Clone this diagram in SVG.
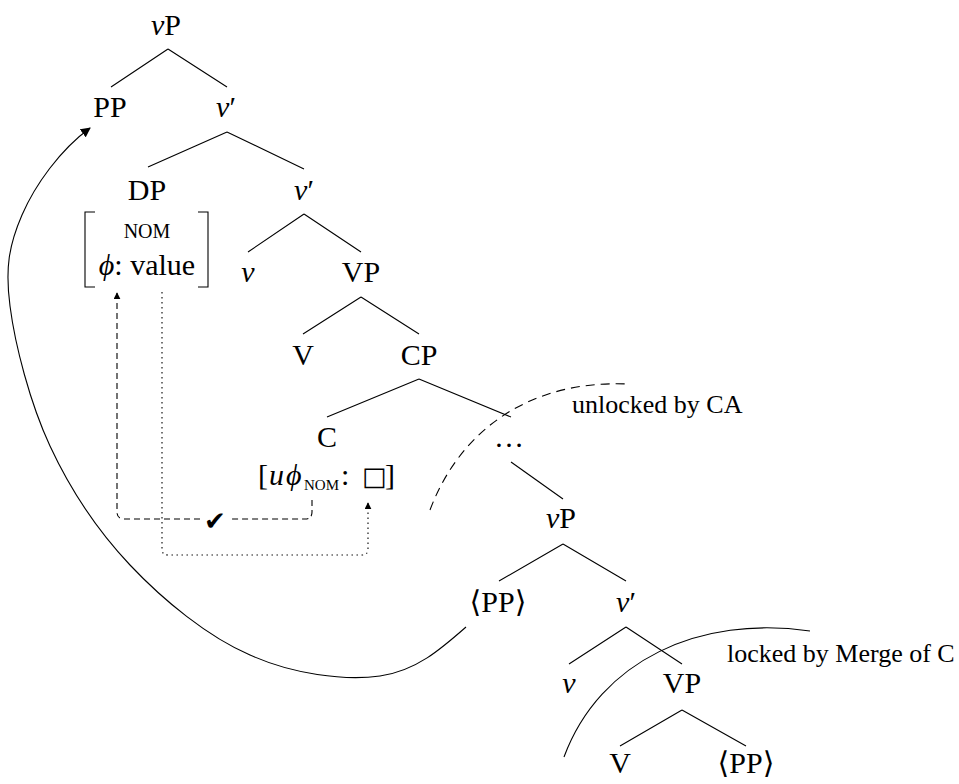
<svg xmlns="http://www.w3.org/2000/svg" width="959" height="784" viewBox="0 0 959 784">
<style>
text{font-family:"Liberation Serif","DejaVu Serif",serif;font-size:30px;fill:#000}
.lab{text-anchor:middle}
.it{font-style:italic}
.note{font-size:26px}
.edge{stroke:#000;stroke-width:1.1;fill:none}
</style>
<defs>
<marker id="ah" viewBox="0 0 10 10" refX="9" refY="5" markerWidth="7" markerHeight="7" markerUnits="userSpaceOnUse" orient="auto">
<path d="M0,0 L10,5 L0,10 z" fill="#000"/>
</marker>
<marker id="ahb" viewBox="0 0 10 10" refX="9" refY="5" markerWidth="10" markerHeight="10" markerUnits="userSpaceOnUse" orient="auto">
<path d="M0,0 L10,5 L0,10 z" fill="#000"/>
</marker>
</defs>
<rect width="959" height="784" fill="#fff"/>

<g id="connectors">
<path class="edge" d="M168,49 L111,87 M168,49 L227,87"/>
<path class="edge" d="M227,132 L148,167 M227,132 L304,169"/>
<path class="edge" d="M304,214 L248,252 M304,214 L361,252"/>
<path class="edge" d="M361,297 L303,334 M361,297 L419,334"/>
<path class="edge" d="M419,379 L327,417 M419,379 L511,417"/>
<path class="edge" d="M511,462 L563,499"/>
<path class="edge" d="M563,544 L499,581 M563,544 L626,581"/>
<path class="edge" d="M626,627 L569,664 M626,627 L682,664"/>
<path class="edge" d="M682,710 L620,746 M682,710 L746,746"/>
<!-- agreement dashed -->
<path class="edge" stroke-dasharray="6 4" d="M312,500 V512 Q312,519 305,519 H230"/>
<path class="edge" stroke-dasharray="6 4" marker-end="url(#ah)" d="M200,519 H124 Q117,519 117,512 V293"/>
<!-- valuation dotted -->
<path class="edge" stroke-dasharray="1.4 3.6" marker-end="url(#ah)" d="M162,292 V549 Q162,555 168,555 H362 Q368,555 368,549 V503"/>
<!-- movement arrow -->
<path class="edge" stroke-width="1.5" marker-end="url(#ahb)" d="M466,627 C441,649 416,671 380,676 C344,681 292,674 250,655 C208,637 163,600 130,565 C97,530 70,489 50,446 C30,403 15,345 10,306 C5,268 9,245 22,215 C35,185 60,150 90,128"/>
<!-- phase arcs -->
<path class="edge" stroke-dasharray="9 6" d="M430,510 C460,430 530,380 627,384"/>
<path class="edge" stroke-width="1.2" d="M564,757 C600,660 700,615 810,631"/>
</g>

<g id="n-vP"><text class="lab" x="166" y="35"><tspan class="it">v</tspan>P</text></g>
<g id="n-PP"><text class="lab" x="110" y="117">PP</text></g>
<g id="n-vbar1"><text class="lab" x="226" y="117"><tspan class="it">v</tspan>′</text></g>
<g id="n-DP">
<text class="lab" x="147" y="200">DP</text>
<path class="edge" stroke-width="1.6" d="M95,212 H85 V287 H95 M198,212 H208 V287 H198"/>
<text class="lab" x="147" y="238" style="font-size:20px">NOM</text>
<text class="lab" x="147" y="275"><tspan class="it">ϕ</tspan>: value</text>
</g>
<g id="n-vbar2"><text class="lab" x="304" y="200"><tspan class="it">v</tspan>′</text></g>
<g id="n-v1"><text class="lab it" x="248" y="282">v</text></g>
<g id="n-VP1"><text class="lab" x="361" y="282">VP</text></g>
<g id="n-V1"><text class="lab" x="303" y="365">V</text></g>
<g id="n-CP"><text class="lab" x="419" y="365">CP</text></g>
<g id="n-C">
<text class="lab" x="327" y="447">C</text>
<text x="258" y="485">[<tspan class="it" x="269">u</tspan><tspan class="it" x="286">ϕ</tspan><tspan x="304" y="490" style="font-size:15px">NOM</tspan><tspan x="341" y="485">:</tspan><tspan x="362" style="font-family:'DejaVu Sans',sans-serif;font-size:26px">□</tspan><tspan x="385">]</tspan></text>
</g>
<g id="n-dots"><text class="lab" x="509" y="447">…</text></g>
<g id="n-vP2"><text class="lab" x="561" y="528"><tspan class="it">v</tspan>P</text></g>
<g id="n-PPt1"><text class="lab" x="498" y="612">⟨PP⟩</text></g>
<g id="n-vbar3"><text class="lab" x="626" y="612"><tspan class="it">v</tspan>′</text></g>
<g id="n-v2"><text class="lab it" x="569" y="693">v</text></g>
<g id="n-VP2"><text class="lab" x="682" y="693">VP</text></g>
<g id="n-V2"><text class="lab" x="620" y="773">V</text></g>
<g id="n-PPt2"><text class="lab" x="746" y="773">⟨PP⟩</text></g>
<g id="n-check"><text class="lab" x="215" y="530" style="font-family:'DejaVu Sans',sans-serif;font-size:26px">✔</text></g>
<g id="n-unlocked"><text class="note" x="572" y="413">unlocked by CA</text></g>
<g id="n-locked"><text class="note" x="727" y="662">locked by Merge of C</text></g>
</svg>
